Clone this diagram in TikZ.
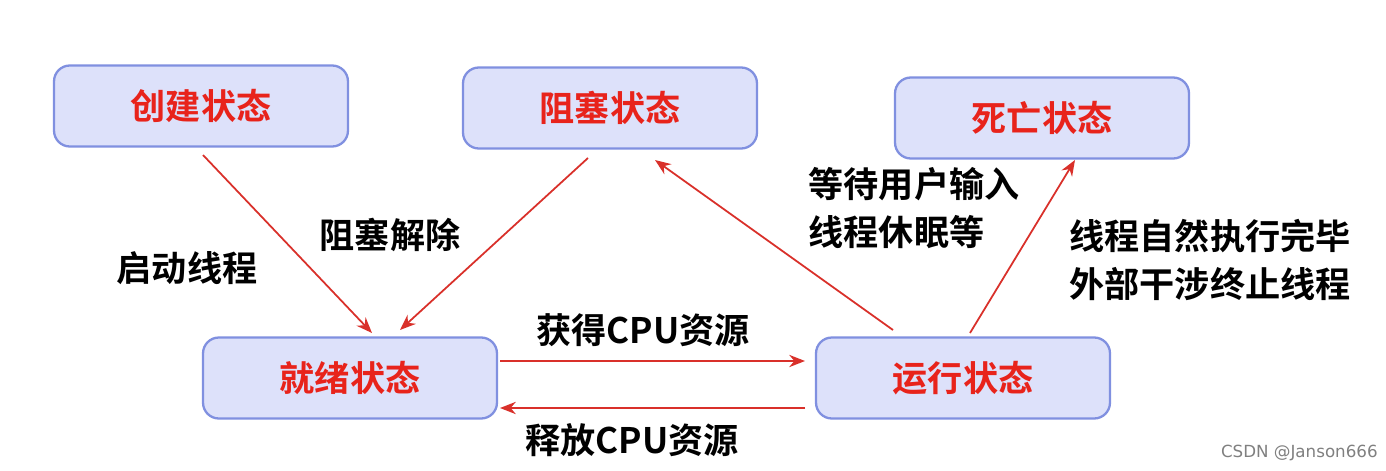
\documentclass[tikz,border=0pt]{standalone}
\usepackage{fontspec}
\newfontfamily\cjk{Noto Sans CJK SC}[BoldFont={Noto Sans CJK SC Bold}]
\usetikzlibrary{arrows.meta}
\definecolor{boxfill}{HTML}{DDE1FA}
\definecolor{boxline}{HTML}{8090E0}
\definecolor{txtred}{HTML}{E8231B}
\definecolor{arr}{HTML}{D9302A}
\begin{document}
\begin{tikzpicture}[x=0.02cm,y=-0.02cm,
  state/.style={draw=boxline,line width=1.3pt,fill=boxfill,rounded corners=9pt,text=txtred,font=\cjk\bfseries\fontsize{20}{24}\selectfont,minimum width=5.88cm,minimum height=1.62cm,inner sep=0pt},
  lab/.style={font=\cjk\bfseries\fontsize{20}{27}\selectfont,align=left,inner sep=0pt},
  conn/.style={draw=arr,line width=1pt,-{Stealth[length=9pt,width=7pt]}}]
\useasboundingbox[fill=white] (0,0) rectangle (1386,470);
\node[state] (create) at (201,106) {创建状态};
\node[state] (block) at (610,108) {阻塞状态};
\node[state] (dead) at (1042,118) {死亡状态};
\node[state] (ready) at (350,378) {就绪状态};
\node[state] (run) at (963,378) {运行状态};
\coordinate (c1) at (203,155); \coordinate (r1) at (372,333);
\coordinate (b1) at (588,158); \coordinate (r2) at (400,330);
\coordinate (u1) at (893,330); \coordinate (b2) at (655,160);
\coordinate (u2) at (970,333); \coordinate (d1) at (1075,160);
\coordinate (g1) at (500,361); \coordinate (g2) at (805,361);
\coordinate (f1) at (805,408); \coordinate (f2) at (500,408);
\draw[conn] (c1) -- (r1);
\draw[conn] (b1) -- (r2);
\draw[conn] (u1) -- (b2);
\draw[conn] (u2) -- (d1);
\draw[conn] (g1) -- (g2);
\draw[conn] (f1) -- (f2);
\node[lab] (l1) at (187,268) {启动线程};
\node[lab] (l2) at (390,235) {阻塞解除};
\node[lab] (l3) at (914,208) {等待用户输入\\线程休眠等};
\node[lab] (l4) at (1210,260) {线程自然执行完毕\\外部干涉终止线程};
\node[lab] (l5) at (643,330) {获得CPU资源};
\node[lab] (l6) at (632,440) {释放CPU资源};
\node[font=\fontspec{DejaVu Sans}\fontsize{9.5}{11}\selectfont,text=gray,inner sep=0pt,anchor=east] (wm) at (1378,453) {CSDN @Janson666};
\end{tikzpicture}
\end{document}
